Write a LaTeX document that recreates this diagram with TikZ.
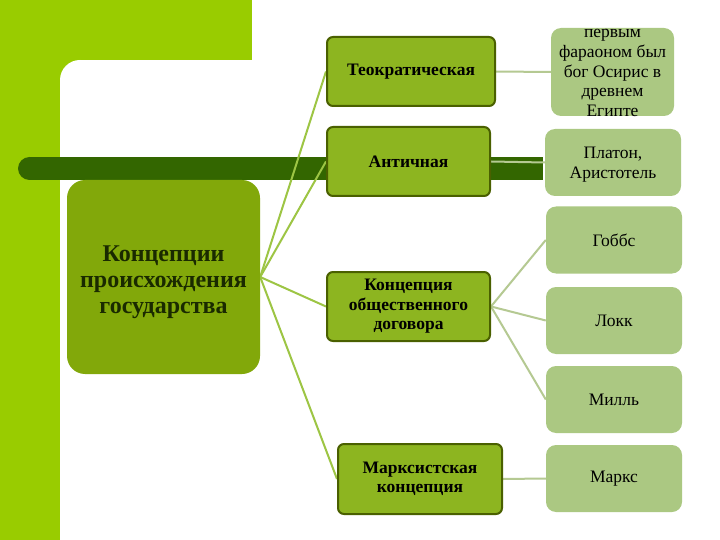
\documentclass[tikz,border=0pt]{standalone}
\usepackage{fontspec}
\setmainfont{Liberation Serif}
\pgfdeclarelayer{back}
\pgfdeclarelayer{links}
\pgfsetlayers{back,links,main}
\definecolor{bggreen}{HTML}{99CC00}
\definecolor{bargreen}{HTML}{336600}
\definecolor{maingreen}{HTML}{82A80A}
\definecolor{midgreen}{HTML}{8DB520}
\definecolor{midborder}{HTML}{4A6000}
\definecolor{lightgreen}{HTML}{ABC882}
\definecolor{linkgreen}{HTML}{9DC544}
\definecolor{sublinkgreen}{HTML}{B5C992}
\definecolor{textdark}{HTML}{1A2A00}
\tikzset{
  mainbox/.style={fill=maingreen, rounded corners=18, minimum width=193, minimum height=194,
    align=center, text=textdark, inner sep=0},
  maintext/.style={align=center, font=\bfseries\fontsize{24}{26}\selectfont, text=textdark, inner sep=0},
  midbox/.style={fill=midgreen, draw=midborder, line width=2, rounded corners=6,
    minimum width=163, minimum height=69, align=center,
    font=\bfseries\fontsize{17.5}{19.5}\selectfont, text=black, inner sep=0},
  rightbox/.style={fill=lightgreen, rounded corners=10, minimum width=136, minimum height=67,
    align=center, font=\fontsize{17.5}{19.5}\selectfont, text=black, inner sep=0},
  rtext/.style={align=center, font=\fontsize{17.5}{19.7}\selectfont, text=black, inner sep=0},
  link/.style={draw=linkgreen, line width=2},
  sublink/.style={draw=sublinkgreen, line width=2},
}
\begin{document}
\begin{tikzpicture}[x=1pt,y=-1pt]
\useasboundingbox (0,0) rectangle (720,540);
\begin{pgfonlayer}{back}
  \fill[white] (0,0) rectangle (720,540);
  \fill[bggreen] (0,0) rectangle (60,540);
  \fill[bggreen] (0,0) rectangle (252,60);
  \fill[bggreen] (60,60) rectangle (80,80);
  \fill[white] (80,80) circle (20);
  \fill[bargreen] (30,157) rectangle (543,180);
  \fill[bargreen] (29.5,168.5) circle (11.5);
\end{pgfonlayer}

\node[mainbox] (main) at (163.5,277) {};
\node[maintext] at ([yshift=-5pt]main.center) {Концепции\\происхождения\\государства};

\node[midbox, minimum width=168] (teo) at (411,71.5) {Теократическая};
\node[midbox] (ant) at (408.5,161.5) {Античная};
\node[midbox] (dog) at (408.5,306.5) {Концепция\\общественного\\договора};
\node[midbox, minimum width=164, minimum height=70] (mar) at (420,479) {Марксистская\\концепция};

\node[rightbox, minimum width=123, minimum height=88] (osi) at (612.5,72) {};
\node[rtext] at ([yshift=-1pt]osi.center) {первым\\фараоном был\\бог Осирис в\\древнем\\Египте};
\node[rightbox] (pla) at (613,162.5) {};
\node[rtext] at ([yshift=-2pt]pla.center) {Платон,\\Аристотель};
\node[rightbox] (gob) at (614,240) {Гоббс};
\node[rightbox] (lok) at (614,320.5) {Локк};
\node[rightbox] (mil) at (614,399.5) {Милль};
\node[rightbox] (mrk) at (614,478.5) {Маркс};

\begin{pgfonlayer}{links}
  \draw[link] (main.east) -- (teo.west);
  \draw[link] (main.east) -- (ant.west);
  \draw[link] (main.east) -- (dog.west);
  \draw[link] (main.east) -- (mar.west);
  \draw[sublink] (teo.east) -- (osi.west);
  \draw[sublink] (ant.east) -- (pla.west);
  \draw[sublink] (dog.east) -- (gob.west);
  \draw[sublink] (dog.east) -- (lok.west);
  \draw[sublink] (dog.east) -- (mil.west);
  \draw[sublink] (mar.east) -- (mrk.west);
\end{pgfonlayer}
\end{tikzpicture}
\end{document}
